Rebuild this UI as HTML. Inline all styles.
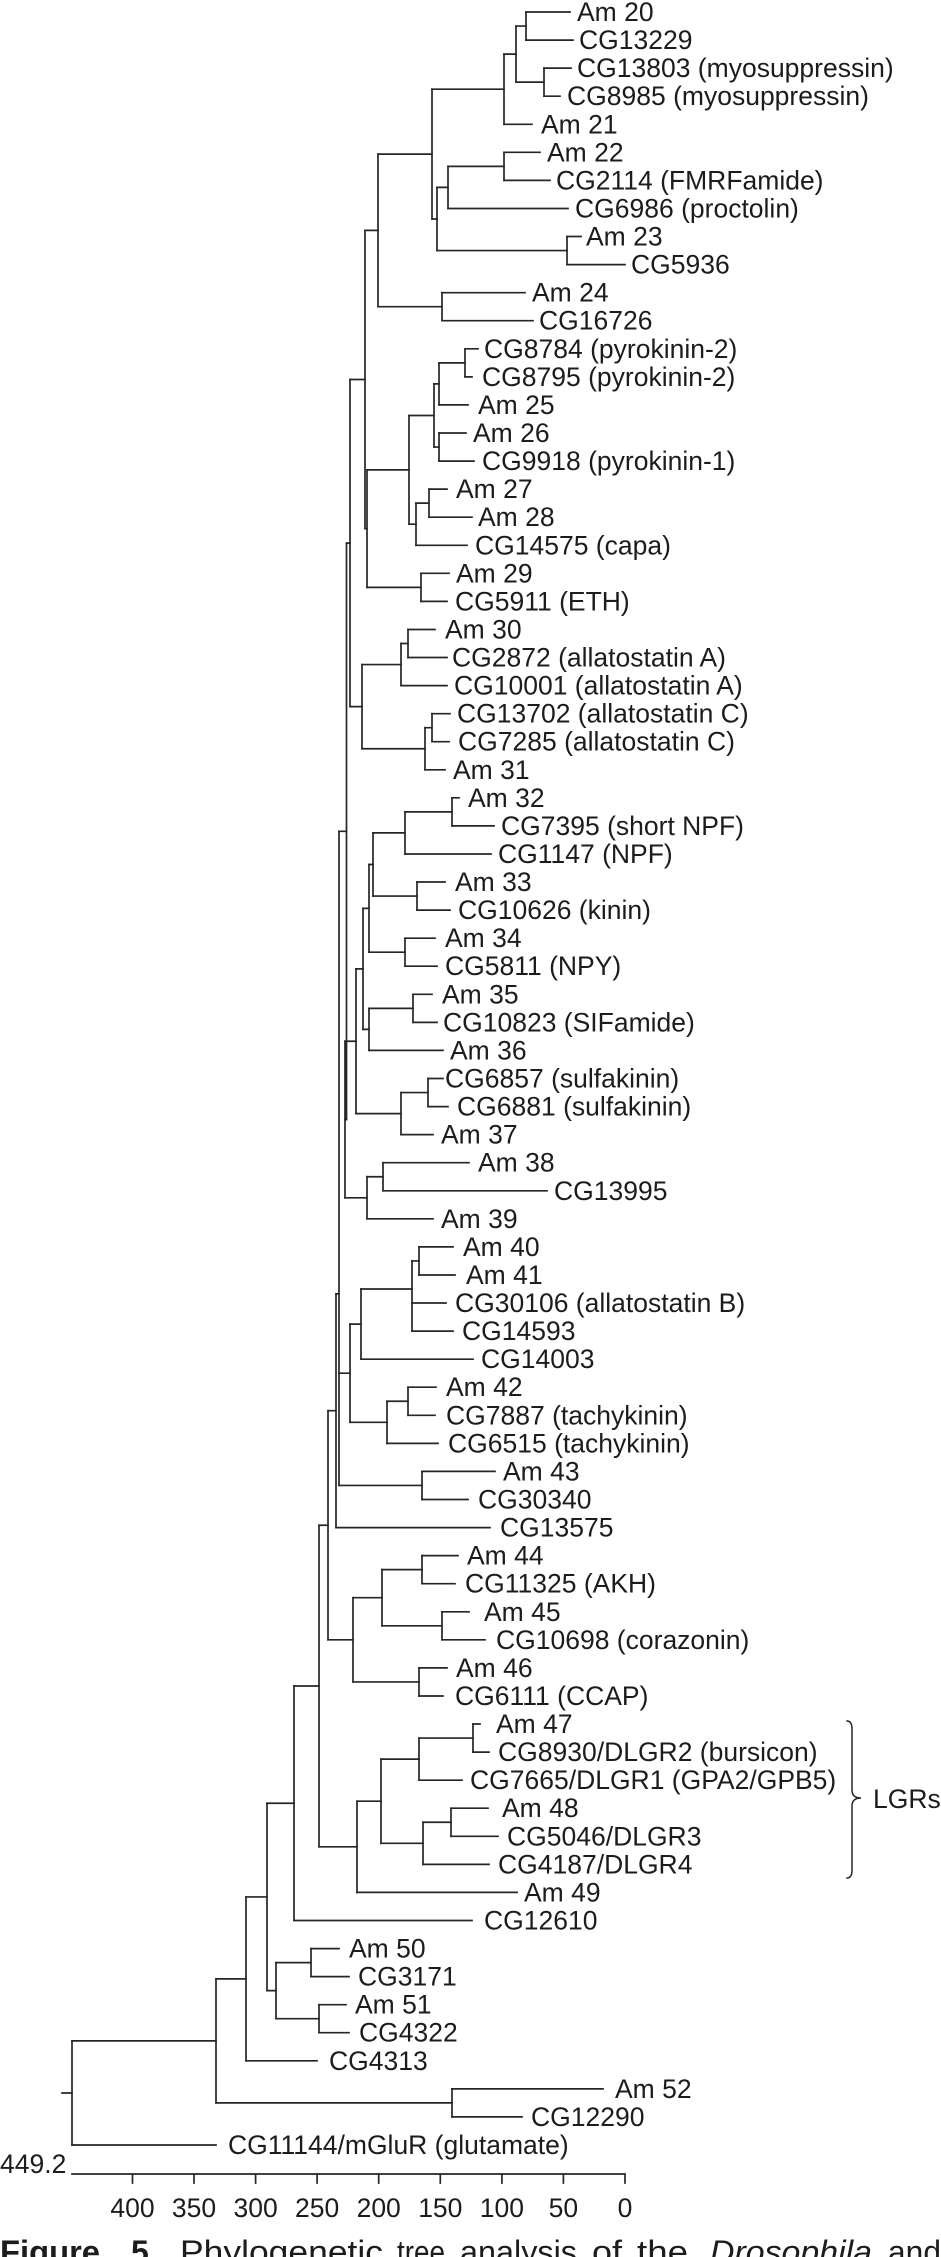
<!DOCTYPE html>
<html>
<head>
<meta charset="utf-8">
<style>
html,body{margin:0;padding:0;background:#fff;}
svg{display:block;}
text{font-family:"Liberation Sans",Arial,Helvetica,sans-serif;font-size:26.5px;fill:#1c1c1c;}
.cap{font-size:32px;}
</style>
</head>
<body>
<svg xmlns="http://www.w3.org/2000/svg" width="941" height="2257" viewBox="0 0 941 2257">
<g fill="none" stroke="#262626" stroke-width="1.7" stroke-linecap="square">
<!-- verticals -->
<path d="M526 12V40.1 M544 68.1V96.2 M516 26.05V82.15 M504 54.1V124.3 M504 152.3V180.4 M448 166.35V208.5 M567 236.5V264.6 M437 187.4V250.55 M432 89.2V219 M442 292.7V320.7 M378 154.1V306.7
M465 348.8V376.9 M439 362.85V404.9 M439 433V461.1 M434 383.9V447.05 M429 489.1V517.2 M416 503.15V545.3 M409 415.5V524.2 M421 573.3V601.4 M367 469.85V587.35 M365 230.4V528.6
M408 629.5V657.5 M401 643.5V685.6 M432 713.7V741.7 M425 727.7V769.8 M362 664.55V748.75 M350 379.5V706.65
M452 797.8V825.9 M405 811.85V854 M417 882V910.1 M373 832.9V896.05 M405 938.2V966.2 M369 864.5V952.2 M413 994.3V1022.4 M369 1008.35V1050.4 M363 908.35V1029.4 M428 1078.5V1106.6 M401 1092.55V1134.6 M356 968.9V1113.6 M383 1162.7V1190.8 M367 1176.75V1218.8 M345 1041.25V1197.8 M346.5 543.1V1119.5
M419 1246.9V1275 M412 1260.95V1331.1 M361 1289V1359.2 M408 1387.2V1415.3 M387 1401.25V1443.4 M350 1324.1V1422.3 M339 831.3V1485.45 M422 1471.4V1499.5 M336 1293.85V1527.6
M422 1555.6V1583.7 M442 1611.8V1639.8 M382 1569.65V1625.8 M419 1667.9V1696 M353 1597.7V1681.95 M328 1410.7V1639.8
M473 1724V1752.1 M419 1738.05V1780.2 M451 1808.2V1836.3 M423 1822.25V1864.4 M381 1759.1V1843.3 M357 1801.2V1892.4 M319 1525.25V1846.8 M294 1686V1920.5
M311 1948.6V1976.6 M319 2004.7V2032.7 M276 1962.6V2018.7 M267 1803.25V1990.65 M246 1896.95V2060.8 M452 2088.9V2116.9 M216 1978.9V2102.9 M72 2040.9V2145"/>
<!-- stems -->
<path d="M516 26.05H526 M516 82.15H544 M504 54.1H516 M432 89.2H504 M448 166.35H504 M437 187.4H448 M437 250.55H567 M432 219H437 M378 154.1H432 M378 306.7H442 M365 230.4H378
M439 362.85H465 M434 383.9H439 M434 447.05H439 M409 415.5H434 M416 503.15H429 M409 524.2H416 M367 469.85H409 M367 587.35H421 M365 528.6H367 M350 379.5H365
M401 643.5H408 M362 664.55H401 M425 727.7H432 M362 748.75H425 M350 706.65H362 M346.5 543.1H350
M405 811.85H452 M373 832.9H405 M373 896.05H417 M369 864.5H373 M369 952.2H405 M363 908.35H369 M369 1008.35H413 M363 1029.4H369 M356 968.9H363 M401 1092.55H428 M356 1113.6H401 M345 1041.25H356 M367 1176.75H383 M345 1197.8H367 M345 1119.5H346.5 M339 831.3H346.5
M412 1260.95H419 M361 1289H412 M350 1324.1H361 M387 1401.25H408 M350 1422.3H387 M339 1373.2H350 M339 1485.45H422 M336 1293.85H339 M328 1410.7H336
M382 1569.65H422 M382 1625.8H442 M353 1597.7H382 M353 1681.95H419 M328 1639.8H353 M319 1525.25H328
M419 1738.05H473 M381 1759.1H419 M423 1822.25H451 M381 1843.3H423 M357 1801.2H381 M319 1846.8H357 M294 1686H319 M267 1803.25H294
M276 1962.6H311 M276 2018.7H319 M267 1990.65H276 M246 1896.95H267 M216 1978.9H246 M216 2102.9H452 M72 2040.9H216 M62 2093H72"/>
<!-- leaves -->
<path d="M526 12H570 M526 40.1H573 M544 68.1H571 M544 96.2H560 M504 124.3H532 M504 152.3H540 M504 180.4H550 M448 208.5H568 M567 236.5H581 M567 264.6H625 M442 292.7H525 M442 320.7H533
M465 348.8H478 M465 376.9H472 M439 404.9H468 M439 433H466 M439 461.1H474 M429 489.1H447 M429 517.2H472 M416 545.3H467 M421 573.3H449 M421 601.4H447
M408 629.5H435 M408 657.5H447 M401 685.6H447 M432 713.7H450 M432 741.7H449 M425 769.8H445
M452 797.8H459 M452 825.9H494 M405 854H491 M417 882H445 M417 910.1H450 M405 938.2H435 M405 966.2H437 M413 994.3H432 M413 1022.4H437 M369 1050.4H443 M428 1078.5H443 M428 1106.6H448 M401 1134.6H433 M383 1162.7H469 M383 1190.8H547 M367 1218.8H433
M419 1246.9H453 M419 1275H455 M412 1303H446 M412 1331.1H453 M361 1359.2H473 M408 1387.2H436 M408 1415.3H435 M387 1443.4H438 M422 1471.4H495 M422 1499.5H468 M336 1527.6H490
M422 1555.6H458 M422 1583.7H455 M442 1611.8H469 M442 1639.8H485 M419 1667.9H447 M419 1696H443
M473 1724H480 M473 1752.1H489 M419 1780.2H462 M451 1808.2H488 M451 1836.3H498 M423 1864.4H489 M357 1892.4H517 M294 1920.5H472
M311 1948.6H339 M311 1976.6H349 M319 2004.7H346 M319 2032.7H349 M246 2060.8H317 M452 2088.9H603 M452 2116.9H522 M72 2145H216"/>
<!-- axis -->
<path d="M72 2174H625 M132.5 2174V2183 M194 2174V2183 M255.6 2174V2183 M317.1 2174V2183 M378.7 2174V2183 M440.3 2174V2183 M501.9 2174V2183 M563.4 2174V2183 M625 2174V2183"/>
<!-- brace -->
<path stroke-width="1.5" d="M847 1721 Q852 1721 852 1729 L852 1790 Q852 1798 861 1798 Q852 1798 852 1806 L852 1870 Q852 1878 847 1878"/>
</g>

<g>
<text x="577" y="21">Am 20</text>
<text x="579" y="49.1">CG13229</text>
<text x="577" y="77.1">CG13803 (myosuppressin)</text>
<text x="567" y="105.2">CG8985 (myosuppressin)</text>
<text x="541" y="133.3">Am 21</text>
<text x="547" y="161.3">Am 22</text>
<text x="556" y="189.4">CG2114 (FMRFamide)</text>
<text x="575" y="217.5">CG6986 (proctolin)</text>
<text x="586" y="245.5">Am 23</text>
<text x="631" y="273.6">CG5936</text>
<text x="532" y="301.7">Am 24</text>
<text x="539" y="329.7">CG16726</text>
<text x="484" y="357.8">CG8784 (pyrokinin-2)</text>
<text x="482" y="385.9">CG8795 (pyrokinin-2)</text>
<text x="478" y="413.9">Am 25</text>
<text x="473" y="442">Am 26</text>
<text x="482" y="470.1">CG9918 (pyrokinin-1)</text>
<text x="456" y="498.1">Am 27</text>
<text x="478" y="526.2">Am 28</text>
<text x="475" y="554.3">CG14575 (capa)</text>
<text x="456" y="582.3">Am 29</text>
<text x="455" y="610.4">CG5911 (ETH)</text>
<text x="445" y="638.5">Am 30</text>
<text x="452" y="666.5">CG2872 (allatostatin A)</text>
<text x="454" y="694.6">CG10001 (allatostatin A)</text>
<text x="457" y="722.7">CG13702 (allatostatin C)</text>
<text x="458" y="750.7">CG7285 (allatostatin C)</text>
<text x="453" y="778.8">Am 31</text>
<text x="468" y="806.8">Am 32</text>
<text x="501" y="834.9">CG7395 (short NPF)</text>
<text x="498" y="863">CG1147 (NPF)</text>
<text x="455" y="891">Am 33</text>
<text x="458" y="919.1">CG10626 (kinin)</text>
<text x="445" y="947.2">Am 34</text>
<text x="445" y="975.2">CG5811 (NPY)</text>
<text x="442" y="1003.3">Am 35</text>
<text x="443" y="1031.4">CG10823 (SIFamide)</text>
<text x="450" y="1059.4">Am 36</text>
<text x="445" y="1087.5">CG6857 (sulfakinin)</text>
<text x="457" y="1115.6">CG6881 (sulfakinin)</text>
<text x="441" y="1143.6">Am 37</text>
<text x="478" y="1171.7">Am 38</text>
<text x="554" y="1199.8">CG13995</text>
<text x="441" y="1227.8">Am 39</text>
<text x="463" y="1255.9">Am 40</text>
<text x="466" y="1284">Am 41</text>
<text x="455" y="1312">CG30106 (allatostatin B)</text>
<text x="462" y="1340.1">CG14593</text>
<text x="481" y="1368.2">CG14003</text>
<text x="446" y="1396.2">Am 42</text>
<text x="446" y="1424.3">CG7887 (tachykinin)</text>
<text x="448" y="1452.4">CG6515 (tachykinin)</text>
<text x="503" y="1480.4">Am 43</text>
<text x="478" y="1508.5">CG30340</text>
<text x="500" y="1536.6">CG13575</text>
<text x="467" y="1564.6">Am 44</text>
<text x="465" y="1592.7">CG11325 (AKH)</text>
<text x="484" y="1620.8">Am 45</text>
<text x="496" y="1648.8">CG10698 (corazonin)</text>
<text x="456" y="1676.9">Am 46</text>
<text x="455" y="1705">CG6111 (CCAP)</text>
<text x="496" y="1733">Am 47</text>
<text x="498" y="1761.1">CG8930/DLGR2 (bursicon)</text>
<text x="470" y="1789.2">CG7665/DLGR1 (GPA2/GPB5)</text>
<text x="502" y="1817.2">Am 48</text>
<text x="507" y="1845.3">CG5046/DLGR3</text>
<text x="498" y="1873.4">CG4187/DLGR4</text>
<text x="524" y="1901.4">Am 49</text>
<text x="484" y="1929.5">CG12610</text>
<text x="349" y="1957.6">Am 50</text>
<text x="358" y="1985.6">CG3171</text>
<text x="355" y="2013.7">Am 51</text>
<text x="359" y="2041.7">CG4322</text>
<text x="329" y="2069.8">CG4313</text>
<text x="615" y="2097.9">Am 52</text>
<text x="531" y="2125.9">CG12290</text>
<text x="228" y="2154">CG11144/mGluR (glutamate)</text>

<text x="873" y="1808">LGRs</text>
<text x="0" y="2173">449.2</text>

<g text-anchor="middle">
<text x="132.5" y="2217">400</text>
<text x="194" y="2217">350</text>
<text x="255.6" y="2217">300</text>
<text x="317.1" y="2217">250</text>
<text x="378.7" y="2217">200</text>
<text x="440.3" y="2217">150</text>
<text x="501.9" y="2217">100</text>
<text x="563.4" y="2217">50</text>
<text x="625" y="2217">0</text>
</g>

<text class="cap" x="0" y="2263" font-weight="bold" textLength="100" lengthAdjust="spacingAndGlyphs">Figure</text>
<text class="cap" x="131" y="2263" font-weight="bold">5</text>
<text class="cap" x="180" y="2263" textLength="203" lengthAdjust="spacingAndGlyphs">Phylogenetic</text>
<text class="cap" x="397" y="2263" textLength="48" lengthAdjust="spacingAndGlyphs">tree</text>
<text class="cap" x="460" y="2263" textLength="117" lengthAdjust="spacingAndGlyphs">analysis</text>
<text class="cap" x="592" y="2263" textLength="30" lengthAdjust="spacingAndGlyphs">of</text>
<text class="cap" x="637" y="2263" textLength="51" lengthAdjust="spacingAndGlyphs">the</text>
<text class="cap" x="710" y="2263" font-style="italic" textLength="162" lengthAdjust="spacingAndGlyphs">Drosophila</text>
<text class="cap" x="888" y="2263" textLength="53" lengthAdjust="spacingAndGlyphs">and</text>
</g>
</svg>
</body>
</html>
